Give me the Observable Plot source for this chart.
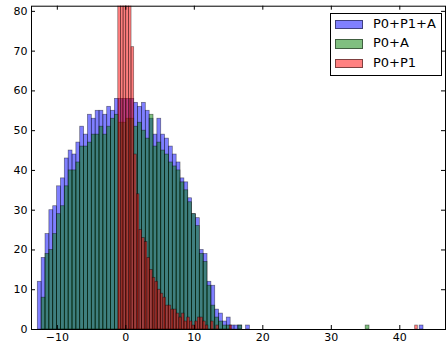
<!DOCTYPE html>
<html>
<head>
<meta charset="utf-8">
<script src="https://cdn.jsdelivr.net/npm/d3@7"></script>
<script src="https://cdn.jsdelivr.net/npm/@observablehq/plot@0.6"></script>
<style>
  html, body { margin: 0; padding: 0; background: #fff; }
  #wrap { position: relative; width: 446px; height: 347px; font-family: "DejaVu Sans", sans-serif; }
  #legend { position: absolute; left: 330px; top: 12.5px; width: 110px; height: 61px; border: 1px solid #000; background: #fff; }
  .row { position: absolute; left: 4px; height: 10px; }
  .sw { position: absolute; left: 0; top: 0; width: 26px; height: 7.5px; border: 1px solid rgba(0,0,0,0.5); }
  .lab { position: absolute; left: 38px; top: -5px; font-size: 13px; line-height: 18px; white-space: nowrap; color: #000; }
</style>
</head>
<body>
<div id="wrap"><div id="chart"></div><div id="legend"></div></div>
<script>
// ---- data ----
const seriesNames = ["P0+P1+A", "P0+A", "P0+P1"];
const seriesColors = ["blue", "green", "red"];

// P0+P1+A and P0+A share bin edges
const sharedBinStart = -12.85;
const sharedBinWidth = 0.5631;
const blueCounts = [12,18,24,30,31,36,38,43,45,44, 47,51,49,54,53,55,55,54,56,55,
  58,58,58,58,58,57,56,57,55,53, 49,53,49,48,46,44,42,38,37,33,
  29,28,20,19,12,11,5,4,2,3, 1,1,1,0,1,
  0,0,0,0,0,0,0,0,0,0, 0,0,0,0,0,0,0,0,0,0, 0,0,0,0,0,0,0,0,0,0, 0,0,0,0,0,0,0,0,0,0, 0,0,0,0,
  1];
const greenCounts = [0,8,19,20,24,29,31,36,40,40, 42,46,46,47,49,49,51,49,51,53,
  54,52,52,53,53,51,52,50,48,54, 46,47,45,44,42,41,40,37,35,32,
  29,26,19,17,11,6,3,2,1,1, 0,0,1,
  0,0,0,0,0,0,0,0,0,0, 0,0,0,0,0,0,0,0,0,0, 0,0,0,0,0,0,0,0,0,0, 0,0,
  1,
  0,0,0,0,0,0,0,0,0,0, 0,0,0,0];

// P0+P1 has its own bins
const redBinStart = -1.1;
const redBinWidth = 0.387;
const redCounts = [90,100,104,96,88,71,44,34,25,23, 22,18,15,13,12,10,9,8,6,6,
  5,5,4,3,4,2,3,2,1,2, 3,3,2,1,0,2,0,1,0,0, 0,0,1,
  ...new Array(69).fill(0),
  1];

const xTicks = [-10, 0, 10, 20, 30, 40];
const yTicks = [0, 10, 20, 30, 40, 50, 60, 70, 80];
const xDomain = [-13.77, 46.67];
const yDomain = [0, 81.3];

// ---- build bins ----
function bins(name, counts, start, width) {
  return counts.map((c, i) => ({series: name, x1: start + i * width, x2: start + (i + 1) * width, count: c}))
               .filter(d => d.count > 0);
}
const allBins = [
  bins(seriesNames[0], blueCounts, sharedBinStart, sharedBinWidth),
  bins(seriesNames[1], greenCounts, sharedBinStart, sharedBinWidth),
  bins(seriesNames[2], redCounts, redBinStart, redBinWidth)
];

const W = 446, H = 347;
const mt = 5.7, mb = 18, ml = 31, mr = 1;
const fw = W - ml - mr, fh = H - mt - mb;
const tick = 4;
const fmt = d => d < 0 ? "\u2212" + (-d) : String(d);

const chart = Plot.plot({
  width: W, height: H,
  marginTop: mt, marginBottom: mb, marginLeft: ml, marginRight: mr,
  style: {fontFamily: "DejaVu Sans, sans-serif", fontSize: "11px", color: "#000", background: "#fff"},
  x: {domain: xDomain, label: null},
  y: {domain: yDomain, label: null},
  marks: [
    ...allBins.map((data, k) => Plot.rectY(data, {
      x1: "x1", x2: "x2", y: "count",
      fill: seriesColors[k], fillOpacity: 0.5,
      stroke: "black", strokeOpacity: 0.5, strokeWidth: 0.7,
      clip: true
    })),
    // inward ticks on all four sides
    Plot.ruleX(xTicks, {x: d => d, insetTop: fh - tick, stroke: "#000"}),
    Plot.ruleX(xTicks, {x: d => d, insetBottom: fh - tick, stroke: "#000"}),
    Plot.ruleY(yTicks, {y: d => d, insetRight: fw - tick, stroke: "#000"}),
    Plot.ruleY(yTicks, {y: d => d, insetLeft: fw - tick, stroke: "#000"}),
    Plot.axisX({ticks: xTicks, tickSize: 0, tickPadding: 4, tickFormat: fmt, fontSize: 11, label: null}),
    Plot.axisY({ticks: yTicks, tickSize: 0, tickPadding: 4, tickFormat: fmt, fontSize: 11, label: null}),
    Plot.frame({stroke: "#000", strokeWidth: 1})
  ]
});
document.getElementById("chart").appendChild(chart);

// legend
const legend = document.getElementById("legend");
const fills = ["rgb(128,128,255)", "rgb(128,191,128)", "rgb(255,128,128)"];
seriesNames.forEach((name, i) => {
  const row = document.createElement("div");
  row.className = "row";
  row.style.top = (6 + i * 19.5) + "px";
  const sw = document.createElement("div");
  sw.className = "sw";
  sw.style.background = fills[i];
  const lab = document.createElement("div");
  lab.className = "lab";
  lab.textContent = name;
  row.appendChild(sw); row.appendChild(lab);
  legend.appendChild(row);
});
</script>
</body>
</html>
